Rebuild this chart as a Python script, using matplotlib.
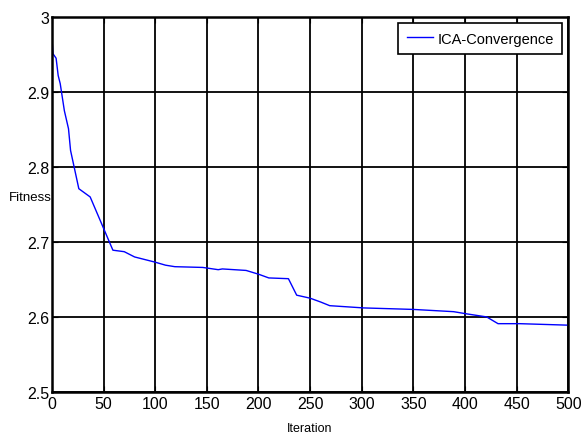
import numpy as np
import matplotlib.pyplot as plt

plt.rcParams['font.family'] = ['Liberation Sans Narrow', 'Liberation Sans', 'DejaVu Sans']

# convergence curve
iteration = [0, 1, 4, 6, 8, 12, 16, 18, 26, 37, 59, 70, 80, 100, 110, 119,
             146, 161, 165, 188, 200, 210, 229, 237, 250, 260, 269, 302,
             350, 389, 402, 421, 432, 453, 500]
fitness = [2.971, 2.951, 2.945, 2.922, 2.911, 2.875, 2.851, 2.822, 2.771,
           2.760, 2.689, 2.687, 2.680, 2.673, 2.669, 2.667, 2.666, 2.663,
           2.664, 2.662, 2.657, 2.652, 2.651, 2.629, 2.625, 2.620, 2.615,
           2.612, 2.610, 2.607, 2.604, 2.600, 2.591, 2.591, 2.589]

fig = plt.figure(figsize=(5.84, 4.39), dpi=100)
ax = fig.add_axes([0.089, 0.105, 0.884, 0.854])

ax.plot(iteration, fitness, color='blue', lw=1.0, label='ICA-Convergence')

ax.set_xlim(0, 500)
ax.set_ylim(2.5, 3.0)
ax.set_xticks(np.arange(0, 501, 50))
ax.set_yticks([2.5, 2.6, 2.7, 2.8, 2.9, 3.0])
ax.set_yticklabels(['2.5', '2.6', '2.7', '2.8', '2.9', '3'])
ax.grid(True, color='black', lw=1.3, ls='-')
ax.tick_params(direction='in', top=True, right=True, labelsize=11.5, length=4, pad=2)
ax.tick_params(axis='x', pad=3)
for s in ax.spines.values():
    s.set_linewidth(1.8)

ax.set_xlabel('Iteration', fontsize=9, labelpad=8)
ax.set_ylabel('Fitness', fontsize=9.5, rotation=0, ha='right', va='center')
ax.yaxis.set_label_coords(0.0, 0.52)

leg = ax.legend(loc='upper right', fontsize=10.5, frameon=True, fancybox=False,
                framealpha=1, edgecolor='black', handlelength=1.8,
                borderaxespad=0.4, borderpad=0.6, handletextpad=0.3)
leg.get_frame().set_linewidth(1.2)

fig.savefig('out.png', dpi=100)
